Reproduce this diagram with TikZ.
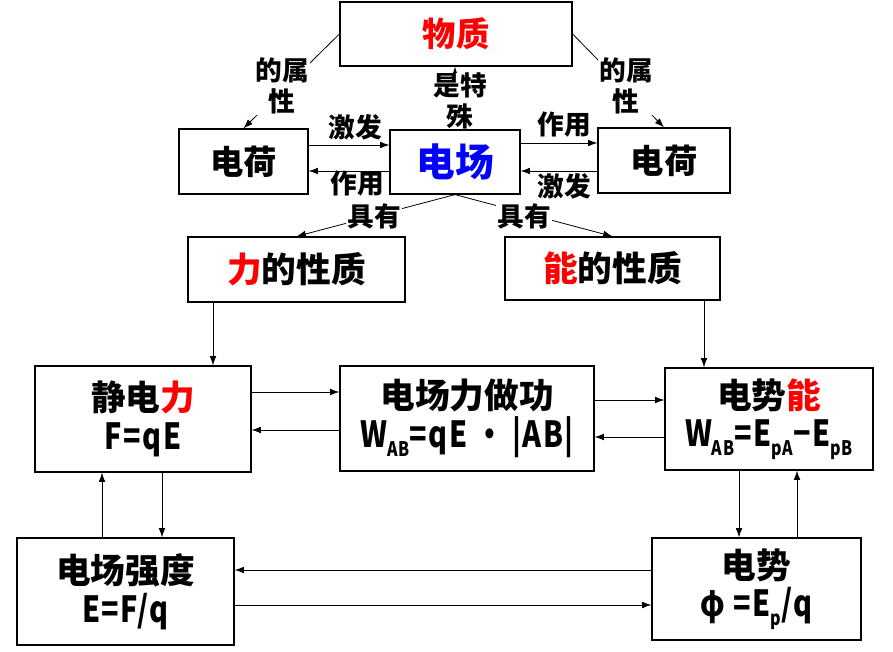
\documentclass[tikz,border=0pt]{standalone}
\usepackage{fontspec}
\usepackage{graphicx}
\setmainfont{Noto Sans CJK SC}
\newfontfamily\formfont[FakeStretch=0.8,LetterSpace=4]{Noto Sans CJK SC}
\usetikzlibrary{arrows.meta}
\definecolor{hred}{RGB}{255,0,0}
\definecolor{hblue}{RGB}{0,0,255}
\newcommand\sbs[1]{\raisebox{-0.45ex}{\fontsize{15pt}{15pt}\selectfont #1}}
\newcommand\frm[1]{{\formfont\bfseries\fontsize{27pt}{30pt}\selectfont #1}}
\tikzset{
  box/.style={draw, line width=0.9pt, inner sep=0pt, align=center,
    font=\bfseries\fontsize{26pt}{29pt}\selectfont},
  lab/.style={font=\bfseries\fontsize{20pt}{23pt}\selectfont, align=center,
    inner sep=1pt, fill=white},
  arr/.style={-{Latex[length=7pt,width=5pt]}, line width=0.6pt},
  ln/.style={line width=0.6pt}
}
\begin{document}
\begin{tikzpicture}[x=0.75pt,y=-0.75pt]
\useasboundingbox (0,0) rectangle (893,652);
% boxes
\node[box, minimum width=174pt, minimum height=48pt, font=\bfseries\fontsize{25pt}{28pt}\selectfont] (wz) at (456,34) {\textcolor{hred}{物质}};
\node[box, minimum width=96.75pt, minimum height=48.75pt, font=\bfseries\fontsize{25pt}{28pt}\selectfont] (q1) at (243.5,161.5) {电荷};
\node[box, minimum width=97.5pt, minimum height=48pt, font=\bfseries\fontsize{29pt}{32pt}\selectfont] (dc) at (455,162) {\textcolor{hblue}{电场}};
\node[box, minimum width=99pt, minimum height=48.75pt, font=\bfseries\fontsize{25pt}{28pt}\selectfont] (q2) at (664,160.5) {电荷};
\node[box, minimum width=162.75pt, minimum height=48.75pt] (lx) at (296.5,269.5) {\textcolor{hred}{力}的性质};
\node[box, minimum width=161.25pt, minimum height=47.25pt] (nx) at (612.5,268.5) {\textcolor{hred}{能}的性质};
\node[box, minimum width=162pt, minimum height=79.5pt] (jd) at (143,419) {静电\textcolor{hred}{力}\\\frm{F=qE}};
\node[box, minimum width=190.5pt, minimum height=78.75pt] (zg) at (467,418.5) {电场力做功\\\frm{W\sbs{AB}=qE · |AB|}};
\node[box, minimum width=156pt, minimum height=76.5pt] (ds) at (769,419) {电势\textcolor{hred}{能}\\\frm{W\sbs{AB}=E\sbs{pA}−E\sbs{pB}}};
\node[box, minimum width=162.75pt, minimum height=80.25pt] (qd) at (125.5,591.5) {电场强度\\\frm{E=F/q}};
\node[box, minimum width=156.75pt, minimum height=76.5pt] (dsh) at (756.5,589) {电势\\\frm{φ =E\sbs{p}/q}};
% top connectors
\draw[arr] (wz.west) -- (q1.north);
\node[lab] (l1) at (282,86) {的属\\性};
\draw[arr] (wz.east) -- (q2.north);
\node[lab] (l2) at (626,86) {的属\\性};
\draw[arr] (dc.north) -- (dc.north |- wz.south);
\node[lab, inner sep=0pt] (l3) at (460,101) {是特\\殊};
% charge <-> field
\draw[arr] (q1.east |- 0,145) -- (dc.west |- 0,145);
\node[lab, fill=none] (l4) at (355,127) {激发};
\draw[arr] (dc.west |- 0,171) -- (q1.east |- 0,171);
\node[lab, fill=none] (l5) at (357,184) {作用};
\draw[arr] (dc.east |- 0,143) -- (q2.west |- 0,143);
\node[lab, fill=none] (l6) at (564,125) {作用};
\draw[arr] (q2.west |- 0,171) -- (dc.east |- 0,171);
\node[lab, fill=none] (l7) at (564,186) {激发};
% field -> properties
\draw[arr] (dc.south) -- (lx.north);
\node[lab] (l8) at (374,216) {具有};
\draw[arr] (dc.south) -- (nx.north);
\node[lab] (l9) at (524,216) {具有};
% properties -> boxes
\draw[arr] (lx.south -| 213,0) -- (jd.north -| 213,0);
\draw[arr] (nx.south -| 704,0) -- (ds.north -| 704,0);
% middle row
\draw[arr] (jd.east |- 0,392) -- (zg.west |- 0,392);
\draw[arr] (zg.west |- 0,430) -- (jd.east |- 0,430);
\draw[arr] (zg.east |- 0,400) -- (ds.west |- 0,400);
\draw[arr] (ds.west |- 0,437) -- (zg.east |- 0,437);
% vertical
\draw[arr] (qd.north -| 102,0) -- (jd.south -| 102,0);
\draw[arr] (jd.south -| 162,0) -- (qd.north -| 162,0);
\draw[arr] (ds.south -| 739,0) -- (dsh.north -| 739,0);
\draw[arr] (dsh.north -| 797,0) -- (ds.south -| 797,0);
% bottom row
\draw[arr] (dsh.west |- 0,570) -- (qd.east |- 0,570);
\draw[arr] (qd.east |- 0,605) -- (dsh.west |- 0,605);
\end{tikzpicture}
\end{document}
